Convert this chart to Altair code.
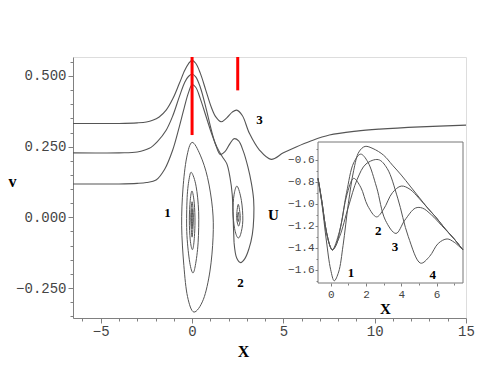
import altair as alt
import pandas as pd

# ---------------- main panel: open trajectories (X, v) ----------------
top_x = [-6.52, -4.0, -3.0, -2.5, -2.16, -1.8, -1.42, -1.05, -0.7, -0.4, -0.2, 0.0, 0.2, 0.45, 0.75,
         1.05, 1.3, 1.59, 1.9, 2.2, 2.44, 2.75, 3.14, 3.69, 4.33, 5.0, 5.7, 6.5, 7.52, 9.0, 10.26, 12.5, 15.0]
top_v = [0.332, 0.332, 0.334, 0.337, 0.343, 0.355, 0.379, 0.42, 0.473, 0.52, 0.543, 0.555, 0.545, 0.51, 0.45,
         0.39, 0.355, 0.338, 0.352, 0.372, 0.379, 0.36, 0.297, 0.238, 0.205, 0.228, 0.249, 0.27, 0.291, 0.305, 0.312, 0.32, 0.326]

mid_x = [-6.52, -4.0, -3.0, -2.34, -1.9, -1.42, -1.05, -0.7, -0.4, -0.2, 0.0, 0.2, 0.45, 0.75, 1.05, 1.3,
         1.55, 1.8, 2.05, 2.3, 2.55, 2.8, 3.05, 3.25, 3.37, 3.38, 3.3, 3.12, 2.9, 2.66, 2.45, 2.3]
mid_v = [0.228, 0.228, 0.231, 0.244, 0.268, 0.308, 0.36, 0.426, 0.478, 0.498, 0.506, 0.497, 0.46, 0.39, 0.31, 0.255,
         0.222, 0.232, 0.258, 0.278, 0.27, 0.235, 0.18, 0.12, 0.063, 0.0, -0.06, -0.11, -0.145, -0.16, -0.145, -0.09]

low_x = [-6.52, -4.0, -3.0, -2.5, -1.97, -1.5, -1.06, -0.7, -0.42, -0.2, 0.0, 0.2, 0.45, 0.75, 1.05, 1.35,
         1.65, 1.9, 2.08, 2.2, 2.24, 2.27, 2.3]
low_v = [0.118, 0.118, 0.12, 0.123, 0.132, 0.17, 0.238, 0.32, 0.39, 0.44, 0.469, 0.46, 0.42, 0.36, 0.3, 0.25,
         0.215, 0.19, 0.14, 0.08, 0.02, -0.04, -0.09]

# ---------------- main panel: closed contours ----------------
loop1a_x = [0.0, 0.45, 0.85, 1.12, 1.15, 0.98, 0.62, 0.1, -0.25, -0.45, -0.57, -0.5, -0.3]
loop1a_v = [0.265, 0.22, 0.14, 0.03, -0.07, -0.19, -0.29, -0.335, -0.28, -0.17, -0.03, 0.1, 0.21]
loop1b_x = [-0.02, 0.22, 0.36, 0.33, 0.18, 0.03, -0.15, -0.29, -0.27, -0.15]
loop1b_v = [0.158, 0.11, 0.02, -0.09, -0.17, -0.196, -0.15, -0.05, 0.07, 0.14]
loop1c_x = [0.0, 0.12, 0.16, 0.1, 0.01, -0.1, -0.15, -0.1]
loop1c_v = [0.093, 0.05, -0.02, -0.09, -0.114, -0.08, -0.01, 0.06]
loop1d_x = [0.0, 0.07, 0.0, -0.07]
loop1d_v = [0.055, 0.0, -0.07, 0.0]
loop1e_x = [0.0, 0.035, 0.0, -0.035]
loop1e_v = [0.03, -0.005, -0.04, -0.005]
loop2a_x = [2.47, 2.7, 2.78, 2.66, 2.5, 2.33, 2.24, 2.3]
loop2a_v = [0.11, 0.06, -0.01, -0.06, -0.072, -0.04, 0.02, 0.08]
loop2b_x = [2.53, 2.64, 2.55, 2.44]
loop2b_v = [0.046, 0.0, -0.031, 0.0]
loop2c_x = [2.53, 2.57, 2.53, 2.49]
loop2c_v = [0.018, 0.0, -0.015, 0.0]

# red markers
rule_x = [0.0, 2.5]
rule_lo = [0.291, 0.449]
rule_hi = [0.567, 0.567]

# labels on the main panel
lab_text = ["1", "2", "3", "U", "X"]
lab_x = [-1.35, 2.65, 3.69, 4.46, 10.59]
lab_v = [0.015, -0.231, 0.343, 0.008, -0.323]
lab_size = [13, 13, 13, 15, 15]

# ---------------- inset (X, U) ----------------
in1_x = [-0.72, -0.5, -0.25, 0.0, 0.2, 0.45, 0.7, 1.0, 1.3, 1.6, 1.95, 2.4, 3.0, 3.5, 4.0, 4.5, 5.0, 5.5, 6.0, 6.5, 7.0, 7.5]
in1_u = [-0.77, -1.0, -1.33, -1.6, -1.70, -1.62, -1.38, -1.0, -0.7, -0.53, -0.48, -0.5, -0.56, -0.65, -0.74, -0.84, -0.94, -1.04, -1.13, -1.23, -1.32, -1.42]
in2_x = [-0.72, -0.5, -0.25, 0.0, 0.1, 0.3, 0.6, 0.9, 1.3, 1.7, 2.1, 2.6, 3.0, 3.5, 4.0, 4.5, 5.0, 5.5, 6.0, 6.5, 7.0, 7.5]
in2_u = [-0.77, -0.98, -1.25, -1.4, -1.42, -1.38, -1.18, -0.93, -0.77, -0.85, -1.02, -1.12, -1.05, -0.9, -0.84, -0.87, -0.95, -1.04, -1.13, -1.23, -1.32, -1.42]
in3_x = [-0.72, -0.5, -0.25, 0.0, 0.1, 0.5, 0.9, 1.3, 1.7, 2.1, 2.6, 3.1, 3.7, 4.2, 4.8, 5.2, 5.7, 6.3, 7.0, 7.5]
in3_u = [-0.77, -0.98, -1.25, -1.4, -1.42, -1.25, -0.9, -0.63, -0.55, -0.62, -0.85, -1.15, -1.27, -1.15, -1.04, -1.04, -1.1, -1.2, -1.32, -1.42]
in4_x = [-0.72, -0.5, -0.25, 0.0, 0.1, 0.5, 1.0, 1.5, 2.0, 2.7, 3.2, 3.8, 4.4, 5.1, 5.6, 6.1, 6.6, 7.0, 7.5]
in4_u = [-0.77, -0.98, -1.25, -1.4, -1.42, -1.3, -1.03, -0.78, -0.64, -0.6, -0.68, -0.95, -1.3, -1.54, -1.48, -1.36, -1.32, -1.35, -1.42]

in_lab_text = ["1", "2", "3", "4"]
in_lab_x = [1.15, 2.69, 3.64, 5.78]
in_lab_u = [-1.63, -1.245, -1.39, -1.645]

# frame / ticks
main_x_ticks = [-6, -5, -4, -3, -2, -1, 0, 1, 2, 3, 4, 5, 6, 7, 8, 9, 10, 11, 12, 13, 14, 15]
main_v_ticks = [-0.35, -0.3, -0.25, -0.2, -0.15, -0.1, -0.05, 0.0, 0.05, 0.1, 0.15, 0.2, 0.25, 0.3, 0.35, 0.4, 0.45, 0.5, 0.55]
in_x_ticks = [0, 1, 2, 3, 4, 5, 6, 7]
in_u_ticks = [-1.7, -1.6, -1.5, -1.4, -1.3, -1.2, -1.1, -1.0, -0.9, -0.8, -0.7, -0.6, -0.5]
in_x_dom = [-0.72, 7.5]
in_u_dom = [-1.72, -0.44]


def path_df(name, xs, ys, xn="x", yn="v"):
    return pd.DataFrame({xn: xs, yn: ys, "i": list(range(len(xs))), "id": name})


open_df = pd.concat([path_df("top", top_x, top_v), path_df("mid", mid_x, mid_v), path_df("low", low_x, low_v)])
loops_df = pd.concat([
    path_df("1a", loop1a_x, loop1a_v), path_df("1b", loop1b_x, loop1b_v), path_df("1c", loop1c_x, loop1c_v),
    path_df("1d", loop1d_x, loop1d_v), path_df("1e", loop1e_x, loop1e_v),
    path_df("2a", loop2a_x, loop2a_v), path_df("2b", loop2b_x, loop2b_v), path_df("2c", loop2c_x, loop2c_v),
])
rules_df = pd.DataFrame({"x": rule_x, "lo": rule_lo, "hi": rule_hi})
labels_df = pd.DataFrame({"x": lab_x, "v": lab_v, "t": lab_text, "s": lab_size})
inset_df = pd.concat([path_df("1", in1_x, in1_u, "ux", "u"), path_df("2", in2_x, in2_u, "ux", "u"),
                      path_df("3", in3_x, in3_u, "ux", "u"), path_df("4", in4_x, in4_u, "ux", "u")])
in_labels_df = pd.DataFrame({"ux": in_lab_x, "u": in_lab_u, "t": in_lab_text})
box_df = pd.DataFrame({"ux0": [in_x_dom[0]], "ux1": [in_x_dom[1]], "u0": [in_u_dom[0]], "u1": [in_u_dom[1]]})

W, H = 393, 261
LINE = "#555555"
AXC = "#808080"
LAB = "#444444"

xs_main = alt.Scale(domain=[-6.52, 15.0], nice=False, zero=False)
ys_main = alt.Scale(domain=[-0.356, 0.567], nice=False, zero=False)

x_axis = alt.Axis(
    values=main_x_ticks, tickCount=200, format="d",
    labelExpr="datum.value % 5 === 0 ? datum.label : ''",
    tickSize={"condition": {"test": "datum.value % 5 === 0", "value": 5}, "value": 3},
    labelFont="Liberation Mono", labelFontSize=14, labelColor=LAB, labelPadding=1,
    labelFlush=False, labelOverlap=False, tickColor=AXC, domainColor=AXC, grid=False,
    title="X", titleFont="Liberation Serif", titleFontWeight="bold", titleFontSize=16,
    titleColor="black", titleX=170, titleY=33, titleBaseline="middle", titleAlign="center",
)
y_axis = alt.Axis(
    values=main_v_ticks, tickCount=200,
    labelExpr="abs(datum.value*4 - round(datum.value*4)) < 0.001 ? format(datum.value, '.3f') : ''",
    tickSize={"condition": {"test": "abs(datum.value*4 - round(datum.value*4)) < 0.001", "value": 5}, "value": 3},
    labelFont="Liberation Mono", labelFontSize=14, labelColor=LAB, labelPadding=2,
    labelFlush=False, labelOverlap=False, tickColor=AXC, domainColor=AXC, grid=False,
    title="v", titleFont="Liberation Serif", titleFontWeight="bold", titleFontSize=16,
    titleColor="black", titleAngle=0, titleX=-61, titleY=124, titleBaseline="middle", titleAlign="center",
)

curves = alt.Chart(open_df).mark_line(interpolate="catmull-rom", color=LINE, strokeWidth=1.1).encode(
    x=alt.X("x:Q", scale=xs_main, axis=x_axis),
    y=alt.Y("v:Q", scale=ys_main, axis=y_axis),
    detail="id:N", order="i:Q",
)
loops = alt.Chart(loops_df).mark_line(interpolate="cardinal-closed", color=LINE, strokeWidth=1.0).encode(
    x=alt.X("x:Q", scale=xs_main), y=alt.Y("v:Q", scale=ys_main), detail="id:N", order="i:Q",
)
rules = alt.Chart(rules_df).mark_rule(color="#ff0000", strokeWidth=3).encode(
    x=alt.X("x:Q", scale=xs_main), y=alt.Y("lo:Q", scale=ys_main), y2="hi:Q",
)
labels = alt.Chart(labels_df).mark_text(font="Liberation Serif", fontWeight="bold", color="black").encode(
    x=alt.X("x:Q", scale=xs_main), y=alt.Y("v:Q", scale=ys_main), text="t:N",
    size=alt.Size("s:Q", scale=None, legend=None),
)
main = alt.layer(curves, loops, rules, labels)

# inset scales map into a sub-rectangle of the plot area
ixs = alt.Scale(domain=in_x_dom, range=[245, 390], nice=False, zero=False)
iys = alt.Scale(domain=in_u_dom, range=[226, 85], nice=False, zero=False)
ix_axis = alt.Axis(
    orient="bottom", offset=-35, values=in_x_ticks, tickCount=200, format="d",
    labelExpr="datum.value % 2 === 0 ? datum.label : ''",
    tickSize={"condition": {"test": "datum.value % 2 === 0", "value": 3}, "value": 2},
    labelFont="Liberation Mono", labelFontSize=11, labelColor=LAB, labelPadding=2,
    labelFlush=False, labelOverlap=False, tickColor=AXC, domain=False, grid=False, title=None,
)
iy_axis = alt.Axis(
    orient="left", offset=-245, values=in_u_ticks, format=".1f", tickCount=200,
    labelExpr="abs(datum.value*5 - round(datum.value*5)) < 0.001 ? datum.label : ''",
    tickSize={"condition": {"test": "abs(datum.value*5 - round(datum.value*5)) < 0.001", "value": 3}, "value": 2},
    labelFont="Liberation Mono", labelFontSize=11, labelColor=LAB, labelPadding=1,
    labelFlush=False, labelOverlap=False, tickColor=AXC, domain=False, grid=False, title=None,
)
ibox = alt.Chart(box_df).mark_rect(fill="white", stroke="#777777", strokeWidth=1).encode(
    x=alt.X("ux0:Q", scale=ixs, axis=ix_axis), x2="ux1:Q",
    y=alt.Y("u0:Q", scale=iys, axis=iy_axis), y2="u1:Q",
)
icurves = alt.Chart(inset_df).mark_line(interpolate="catmull-rom", color=LINE, strokeWidth=1.0).encode(
    x=alt.X("ux:Q", scale=ixs), y=alt.Y("u:Q", scale=iys), detail="id:N", order="i:Q",
)
ilabels = alt.Chart(in_labels_df).mark_text(font="Liberation Serif", fontWeight="bold", fontSize=13, color="black").encode(
    x=alt.X("ux:Q", scale=ixs), y=alt.Y("u:Q", scale=iys), text="t:N",
)
inset = alt.layer(ibox, icurves, ilabels)

chart = alt.layer(main, inset).resolve_scale(x="independent", y="independent").resolve_axis(
    x="independent", y="independent"
).properties(
    width=W, height=H,
    padding={"left": 65, "top": 49, "right": 20, "bottom": 40},
    autosize=alt.AutoSizeParams(type="none"),
).configure_view(stroke=AXC, strokeWidth=1).configure(background="white")

chart.save("out.html", embed_options={"renderer": "svg", "actions": False})
